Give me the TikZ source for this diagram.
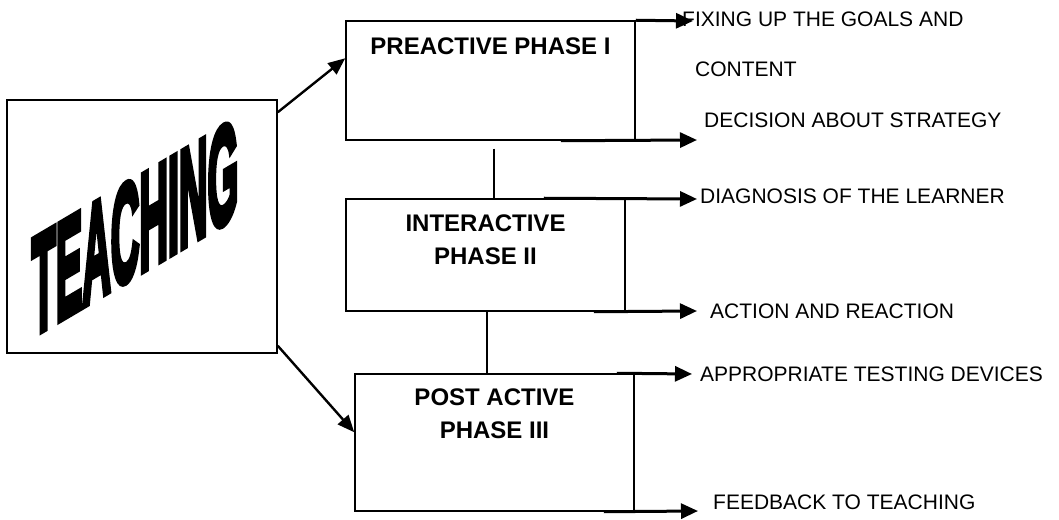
\documentclass[tikz,border=0pt]{standalone}
\usepackage{fontspec}
\setmainfont{Liberation Sans}
\newfontfamily\wordartfont[FakeBold=6]{Liberation Sans Bold}
\usetikzlibrary{arrows.meta,positioning}

\begin{document}
\begin{tikzpicture}[x=1pt, y=1pt,
  box/.style={draw, line width=1.5pt, inner sep=0pt},
  title/.style={font=\fontsize{24}{33}\selectfont\bfseries, align=center, inner sep=0pt},
  lbl/.style={font=\fontsize{21}{25}\selectfont, anchor=base west, inner sep=0pt},
  leg/.style={line width=3pt, -{Triangle[length=17pt,width=15pt]}},
  feed/.style={line width=2.4pt, -{Triangle[length=17pt,width=14pt]}},
  link/.style={line width=1.5pt}]

\useasboundingbox (0,0) rectangle (1059,519);

% Parameters (slant of the word art)
\def\slant{0.59}

% Boxes
\node[box, minimum width=270pt, minimum height=253pt] (teach) at (142,292.5) {};
\node[box, minimum width=289pt, minimum height=119pt] (pre) at (490.5,438.5) {};
\node[box, minimum width=279pt, minimum height=112pt] (inter) at (485.5,264) {};
\node[box, minimum width=279pt, minimum height=137pt] (post) at (494.5,76.5) {};

% Phase titles
\node[title] (preT) at ([yshift=-26pt]pre.north) {PREACTIVE PHASE I};
\node[title] (interT) at ([yshift=-41pt]inter.north) {INTERACTIVE\\PHASE II};
\node[title] (postT) at ([yshift=-40pt]post.north) {POST ACTIVE\\PHASE III};

% Slanted word in the left box
\begin{scope}[shift={(teach.center)}, yslant=\slant]
  \node[transform shape, inner sep=0pt] (word) at (-7,3) {\scalebox{0.99}[3.45]{\fontsize{40}{40}\wordartfont TEACHING}};
\end{scope}

% Links between the phases
\coordinate (l12) at ([xshift=3.5pt,yshift=-8pt]pre.south);
\draw[link] (l12) -- (l12 |- inter.north);
\draw[link] ([xshift=1.5pt]inter.south) -- ([xshift=-7.5pt]post.north);

% Arrows out of TEACHING
\draw[feed] ([yshift=-13pt]teach.north east) -- ([yshift=-38pt]pre.north west);
\draw[feed] ([yshift=8pt]teach.south east) -- ([yshift=-59pt]post.north west);

% Labels on the right
\node[lbl] (goals) at (682,492) {FIXING UP THE GOALS AND};
\node[lbl] (content) at (695,442) {CONTENT};
\node[lbl] (strategy) at (704,391) {DECISION ABOUT STRATEGY};
\node[lbl] (diag) at (700,315) {DIAGNOSIS OF THE LEARNER};
\node[lbl] (action) at (710,200) {ACTION AND REACTION};
\node[lbl] (testing) at (700,137) {APPROPRIATE TESTING DEVICES};
\node[lbl] (feedback) at (713,10) {FEEDBACK TO TEACHING};

% Arrow tips of the outputs
\coordinate (o1) at (693,498);
\coordinate (o2) at (697,379);
\coordinate (o3) at (697,320);
\coordinate (o4) at (697,208);
\coordinate (o5) at (692,145);
\coordinate (o6) at (698,8);

% Output arrows
\draw[leg] (pre.north east) -- (o1);
\draw[leg] ([xshift=-75pt]pre.south east) -- (o2);
\draw[leg] ([xshift=-82pt]inter.north east) -- (o3);
\draw[leg] ([xshift=-32pt]inter.south east) -- (o4);
\draw[leg] ([xshift=-18pt]post.north east) -- (o5);
\draw[leg] ([xshift=-31pt]post.south east) -- (o6);
\end{tikzpicture}
\end{document}
